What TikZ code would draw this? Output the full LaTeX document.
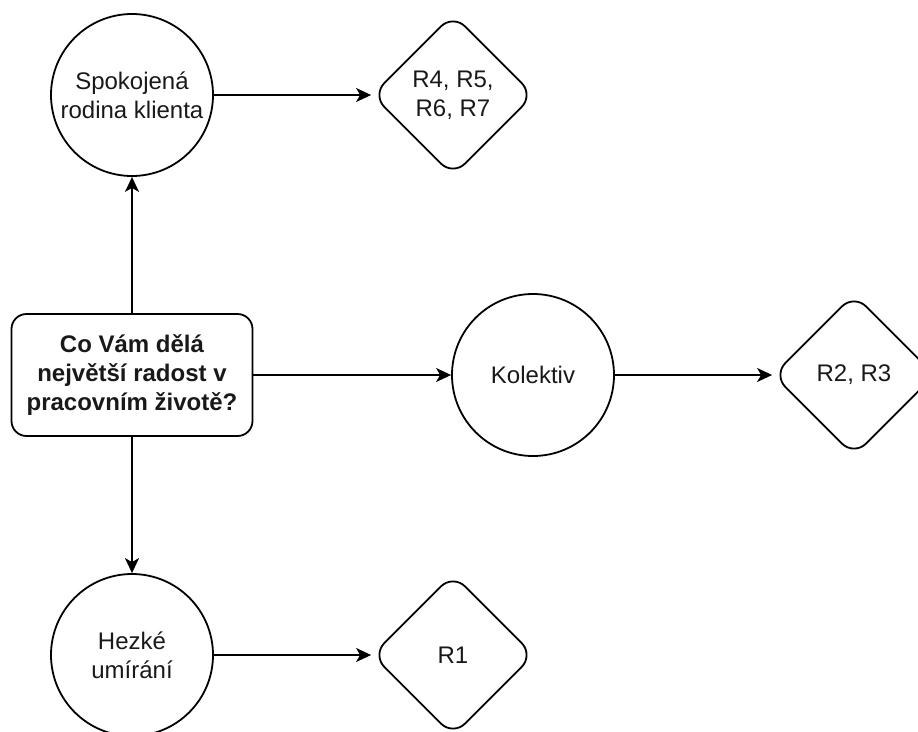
\documentclass[tikz,border=0pt]{standalone}
\usepackage{fontspec}
\setmainfont{Liberation Sans}
\usetikzlibrary{shapes.geometric,arrows.meta}
\begin{document}
\begin{tikzpicture}[x=1pt,y=-1pt,
  every node/.style={font=\fontsize{24}{29}\selectfont, align=center, text=black!90},
  topic/.style={circle, draw, line width=1.8pt, minimum size=162pt, inner sep=0pt},
  result/.style={diamond, draw, line width=1.8pt, minimum width=162pt, minimum height=162pt,
    inner sep=0pt, rounded corners=17pt},
  question/.style={rectangle, draw, line width=1.8pt, rounded corners=15pt,
    minimum width=241pt, minimum height=122pt, inner sep=0pt,
    font=\fontsize{24}{29}\selectfont\bfseries},
  link/.style={line width=1.8pt, -{Stealth[length=15pt,width=14pt,inset=4pt]}}
]
\useasboundingbox (0,0) rectangle (918,731);

% central question
\node[question] (q) at (132,375) {Co Vám dělá\\největší radost v\\pracovním životě?};

% answer topics
\node[topic] (fam) at (132,95)  {Spokojená\\rodina klienta};
\node[topic] (kol) at (533,375) {Kolektiv};
\node[topic] (die) at (132,655) {Hezké\\umírání};

% respondents
\node[result] (r47) at (453,95)  {R4, R5,\\R6, R7};
\node[result] (r23) at (854,375) {R2, R3};
\node[result] (r1)  at (453,655) {R1};

% connectors
\draw[link] (q.north) -- (fam.south);
\draw[link] (q.east)  -- (kol.west);
\draw[link] (q.south) -- (die.north);
\draw[link] (fam.east) -- (r47.west);
\draw[link] (kol.east) -- (r23.west);
\draw[link] (die.east) -- (r1.west);
\end{tikzpicture}
\end{document}
